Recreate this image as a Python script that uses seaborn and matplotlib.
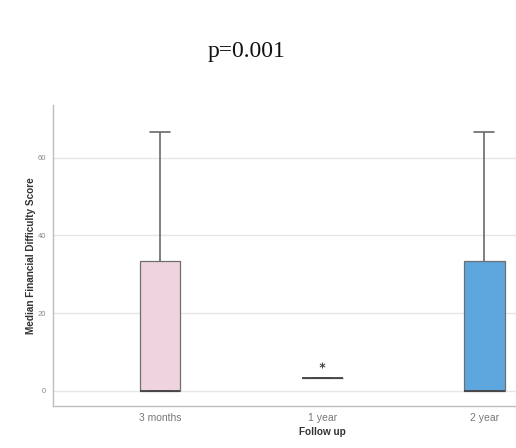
import numpy as np
import pandas as pd
import seaborn as sns
import matplotlib
matplotlib.use("Agg")
import matplotlib.pyplot as plt

# Financial difficulty scores per follow-up visit
follow_up = ["3 months", "1 year", "2 year"]
scores_3_months = [0.0, 0.0, 0.0, 0.0, 0.0, 0.0, 33.33, 33.33, 66.67]
scores_1_year = [3.33, 3.33, 3.33, 3.33, 3.33, 3.33, 3.33, 3.33, 6.67]
scores_2_year = [0.0, 0.0, 0.0, 0.0, 0.0, 0.0, 33.33, 33.33, 66.67]
box_colors = ["#efd3df", "#e8e8e8", "#5ea7de"]
p_value_text = "p=0.001"

df = pd.DataFrame({
    "Follow up": (["3 months"] * len(scores_3_months)
                  + ["1 year"] * len(scores_1_year)
                  + ["2 year"] * len(scores_2_year)),
    "score": scores_3_months + scores_1_year + scores_2_year,
})

sns.set_theme(style="white")
plt.rcParams["font.family"] = ["Liberation Sans", "DejaVu Sans"]

fig = plt.figure(figsize=(5.16, 4.48), dpi=100)
# the plotting area runs past the right edge of the figure
ax = fig.add_axes([0.103, 0.094, 1.043, 0.672])

sns.boxplot(
    data=df, x="Follow up", y="score", order=follow_up,
    hue="Follow up", hue_order=follow_up, palette=box_colors, legend=False,
    saturation=1, width=0.25, whis=1.5, ax=ax, zorder=3,
    boxprops=dict(edgecolor="#6f6f6f", linewidth=0.9),
    whiskerprops=dict(color="#6a6a6a", linewidth=1.2),
    capprops=dict(color="#6a6a6a", linewidth=1.2),
    medianprops=dict(color="#444444", linewidth=1.3),
    flierprops=dict(marker="$*$", markersize=4, markeredgecolor="#333333",
                    markerfacecolor="#333333", markeredgewidth=0.2),
)

ax.set_xlim(-0.66, 2.66)
ax.set_ylim(-3.9, 73.6)
ax.set_yticks([0, 20, 40, 60])
ax.yaxis.grid(True, color="#e6e6e6", linewidth=1.0, zorder=0)
ax.set_axisbelow(True)

for side in ["top", "right"]:
    ax.spines[side].set_visible(False)
ax.spines["left"].set_color("#bdbdbd")
ax.spines["bottom"].set_color("#bdbdbd")
ax.spines["left"].set_linewidth(1.0)
ax.spines["bottom"].set_linewidth(1.0)

ax.tick_params(axis="x", length=0, labelsize=7.5, labelcolor="#777777", pad=5)
ax.tick_params(axis="y", length=0, labelsize=5.5, labelcolor="#888888", pad=5)
ax.set_xlabel("Follow up", fontsize=7.2, fontweight="bold", color="#333333", labelpad=3)
ax.set_ylabel("Median Financial Difficulty Score", fontsize=7.2, fontweight="bold",
              color="#333333")
ax.yaxis.set_label_coords(-0.031, 0.5)

fig.text(0.478, 0.886, p_value_text, ha="center", va="center",
         fontsize=17, family="Liberation Serif", color="#111111")

fig.savefig("out.png", dpi=100, facecolor="white")
